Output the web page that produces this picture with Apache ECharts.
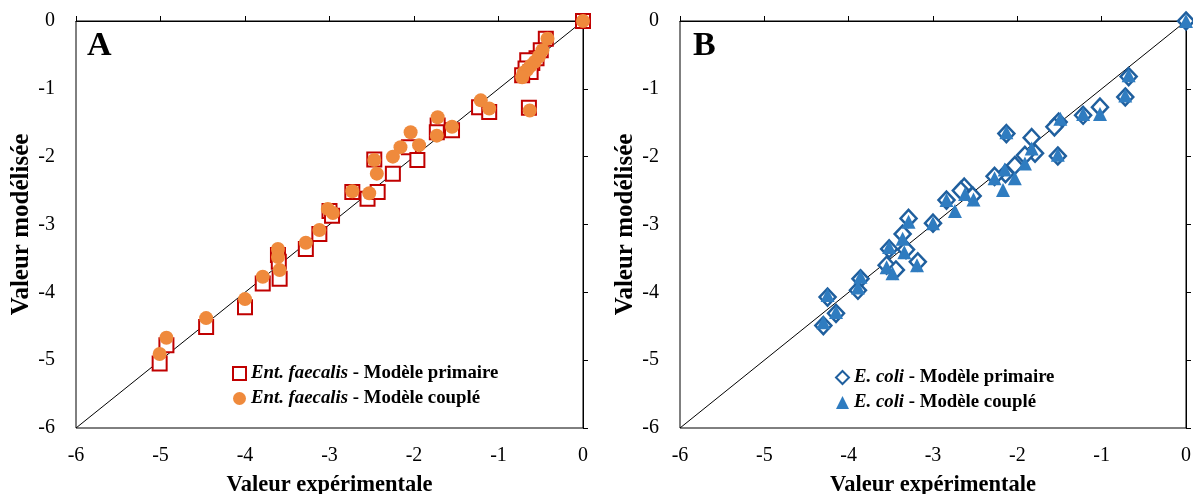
<!DOCTYPE html>
<html><head><meta charset="utf-8">
<script src="https://cdn.jsdelivr.net/npm/echarts@6/dist/echarts.min.js"></script>
<style>html,body{margin:0;padding:0;background:#fff}#c{width:1193px;height:494px}</style>
</head><body><div id="c"></div><script>
// Axis ticks
const axisMin = -6, axisMax = 0, axisInterval = 1;
const identityLine = [[-6, -6], [0, 0]];

// Panel A — Ent. faecalis
const entPrimaire = [
  [0,0],[-0.44,-0.26],[-0.50,-0.43],[-0.55,-0.55],[-0.60,-0.62],[-0.66,-0.58],[-0.68,-0.70],[-0.62,-0.75],[-0.72,-0.80],
  [-0.64,-1.28],[-1.23,-1.27],[-1.11,-1.34],[-1.72,-1.54],[-1.73,-1.64],[-1.55,-1.61],[-2.06,-1.86],[-1.96,-2.05],
  [-2.47,-2.04],[-2.25,-2.25],[-2.73,-2.52],[-2.55,-2.62],[-2.43,-2.52],[-3.00,-2.80],[-2.97,-2.87],[-3.12,-3.14],
  [-3.28,-3.36],[-3.61,-3.45],[-3.60,-3.55],[-3.59,-3.80],[-3.79,-3.87],[-4.00,-4.22],[-4.46,-4.51],[-4.93,-4.78],[-5.01,-5.05]
];
const entCouple = [
  [0,0],[-0.42,-0.26],[-0.48,-0.43],[-0.52,-0.52],[-0.57,-0.60],[-0.62,-0.66],[-0.66,-0.72],[-0.70,-0.76],[-0.72,-0.83],
  [-0.63,-1.32],[-1.21,-1.17],[-1.11,-1.29],[-1.72,-1.42],[-1.73,-1.69],[-1.55,-1.56],[-2.04,-1.64],[-2.16,-1.86],
  [-1.94,-1.83],[-2.25,-2.00],[-2.47,-2.05],[-2.44,-2.25],[-2.73,-2.51],[-2.53,-2.54],[-3.02,-2.77],[-2.96,-2.83],
  [-3.12,-3.08],[-3.28,-3.27],[-3.61,-3.36],[-3.61,-3.48],[-3.59,-3.67],[-3.79,-3.77],[-4.00,-4.10],[-4.46,-4.38],
  [-4.93,-4.67],[-5.01,-4.91]
];

// Panel B — E. coli
const coliPrimaire = [
  [0,0],[-0.68,-0.82],[-0.72,-1.12],[-1.02,-1.27],[-1.22,-1.39],[-1.51,-1.49],[-1.56,-1.56],[-2.13,-1.66],[-1.83,-1.72],
  [-1.52,-1.99],[-1.79,-1.95],[-1.91,-1.98],[-2.03,-2.13],[-2.14,-2.25],[-2.27,-2.29],[-2.63,-2.45],[-2.67,-2.50],
  [-2.53,-2.58],[-2.84,-2.64],[-3.00,-2.98],[-3.29,-2.91],[-3.36,-3.14],[-3.52,-3.36],[-3.32,-3.37],[-3.55,-3.60],
  [-3.44,-3.67],[-3.18,-3.55],[-3.86,-3.80],[-3.89,-3.97],[-4.25,-4.07],[-4.15,-4.31],[-4.30,-4.49]
];
const coliCouple = [
  [0,0],[-0.68,-0.80],[-0.72,-1.10],[-1.02,-1.37],[-1.22,-1.37],[-1.49,-1.44],[-2.13,-1.64],[-1.83,-1.88],[-1.52,-1.97],
  [-1.91,-2.10],[-2.03,-2.32],[-2.15,-2.19],[-2.17,-2.49],[-2.27,-2.32],[-2.62,-2.55],[-2.52,-2.63],[-2.74,-2.80],
  [-2.84,-2.64],[-3.00,-2.98],[-3.29,-2.96],[-3.36,-3.21],[-3.52,-3.33],[-3.34,-3.41],[-3.55,-3.63],[-3.48,-3.72],
  [-3.19,-3.60],[-3.86,-3.77],[-3.89,-3.93],[-4.25,-4.04],[-4.15,-4.29],[-4.30,-4.44]
];

const serif = '"Liberation Serif","Times New Roman",serif';
const grids = [
  {left: 76, top: 21, width: 507, height: 407, show: true, borderColor: '#000', borderWidth: 1, outerBoundsMode: 'none', containLabel: false},
  {left: 680, top: 21, width: 506, height: 407, show: true, borderColor: '#000', borderWidth: 1, outerBoundsMode: 'none', containLabel: false}
];
function xAx(i){return {gridIndex:i,type:'value',min:axisMin,max:axisMax,interval:axisInterval,
  name:'Valeur expérimentale',nameLocation:'middle',nameGap:46,
  nameTextStyle:{fontFamily:serif,fontWeight:'bold',fontSize:22.5,color:'#000'},
  axisLine:{lineStyle:{color:'#000',width:1}},axisTick:{inside:true,length:5,lineStyle:{color:'#000'}},
  axisLabel:{fontFamily:serif,fontSize:20,color:'#000',margin:18},splitLine:{show:false}};}
function yAx(i){return {gridIndex:i,type:'value',min:axisMin,max:axisMax,interval:axisInterval,
  name:'Valeur modélisée',nameLocation:'middle',nameGap:39,
  nameTextStyle:{fontFamily:serif,fontWeight:'bold',fontSize:25,color:'#000'},
  axisLine:{lineStyle:{color:'#000',width:1}},axisTick:{inside:true,length:5,lineStyle:{color:'#000'}},
  axisLabel:{fontFamily:serif,fontSize:20,color:'#000',margin:21},splitLine:{show:false}};}

const rich = {i:{fontFamily:serif,fontStyle:'italic',fontWeight:'bold',fontSize:18.8,lineHeight:20,color:'#000'},
              n:{fontFamily:serif,fontWeight:'bold',fontSize:18.8,lineHeight:20,color:'#000'}};
function legendFmt(name){const p=name.split(' - ');return '{i|'+p[0]+'}{n| - '+p[1]+'}';}

const option = {
  animation:false,
  backgroundColor:'#fff',
  title:[
    {text:'A',left:82,top:24,textStyle:{fontFamily:serif,fontWeight:'bold',fontSize:34,color:'#000'}},
    {text:'B',left:688,top:24,textStyle:{fontFamily:serif,fontWeight:'bold',fontSize:34,color:'#000'}}
  ],
  grid:grids,
  xAxis:[xAx(0),xAx(1)],
  yAxis:[yAx(0),yAx(1)],
  legend:[
    {data:['Ent. faecalis - Modèle primaire','Ent. faecalis - Modèle couplé'],orient:'vertical',left:232,top:364,padding:0,
     itemWidth:13,itemHeight:13,itemGap:6,formatter:legendFmt,textStyle:{rich:rich},selectedMode:false},
    {data:['E. coli - Modèle primaire','E. coli - Modèle couplé'],orient:'vertical',left:835,top:368,padding:0,
     itemWidth:13,itemHeight:13,itemGap:6,formatter:legendFmt,textStyle:{rich:rich},selectedMode:false}
  ],
  series:[
    {type:'line',xAxisIndex:0,yAxisIndex:0,data:identityLine,symbol:'none',silent:true,lineStyle:{color:'#000',width:1},z:1},
    {type:'line',xAxisIndex:1,yAxisIndex:1,data:identityLine,symbol:'none',silent:true,lineStyle:{color:'#000',width:1},z:1},
    {name:'Ent. faecalis - Modèle primaire',type:'scatter',xAxisIndex:0,yAxisIndex:0,data:entPrimaire,symbol:'rect',symbolSize:14,
     itemStyle:{color:'#fff',borderColor:'#c00000',borderWidth:2,opacity:1},z:2},
    {name:'Ent. faecalis - Modèle couplé',type:'scatter',xAxisIndex:0,yAxisIndex:0,data:entCouple,symbol:'circle',symbolSize:14,
     itemStyle:{color:'#ef8a3c',opacity:1},z:3},
    {name:'E. coli - Modèle primaire',type:'scatter',xAxisIndex:1,yAxisIndex:1,data:coliPrimaire,symbol:'diamond',symbolSize:[16,17],
     itemStyle:{color:'#fff',borderColor:'#1f5f9e',borderWidth:2.5,opacity:1},z:2},
    {name:'E. coli - Modèle couplé',type:'scatter',xAxisIndex:1,yAxisIndex:1,data:coliCouple,symbol:'triangle',symbolSize:14,
     itemStyle:{color:'#2f7cc0',opacity:1},z:3}
  ]
};
echarts.init(document.getElementById('c'),null,{renderer:'canvas'}).setOption(option);
</script></body></html>
